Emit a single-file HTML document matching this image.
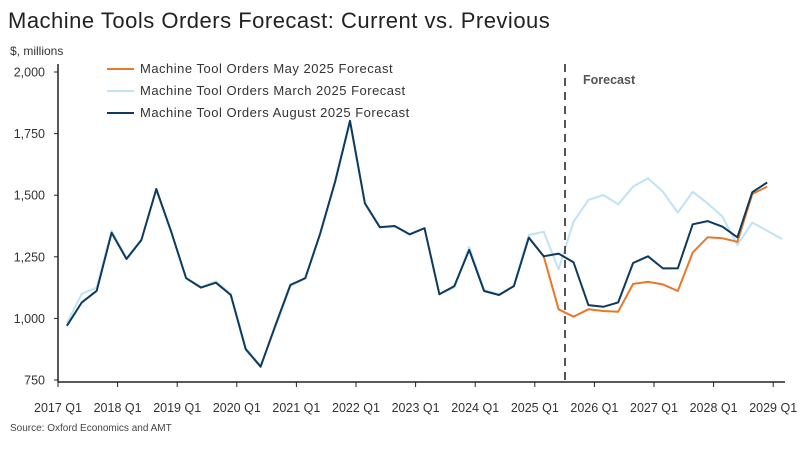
<!DOCTYPE html>
<html><head><meta charset="utf-8"><style>
body{margin:0;background:#fff;font-family:"Liberation Sans",sans-serif}
svg text{font-family:"Liberation Sans",sans-serif}
</style></head><body>
<svg width="800" height="444" viewBox="0 0 800 444">
<text x="8" y="28" font-size="22" letter-spacing="0.5" fill="#222">Machine Tools Orders Forecast: Current vs. Previous</text>
<text x="10" y="55" font-size="12" fill="#333">$, millions</text>
<g id="axes"></g>
<g id="series"></g>
<line x1="565" y1="64" x2="565" y2="382" stroke="#555" stroke-width="2" stroke-dasharray="8,6"/>
<text x="583" y="84" font-size="12.5" font-weight="bold" fill="#555">Forecast</text>
<g>
<line x1="107" y1="69" x2="134" y2="69" stroke="#e8782a" stroke-width="2"/>
<text x="140" y="73" font-size="13" letter-spacing="0.5" fill="#333">Machine Tool Orders May 2025 Forecast</text>
<line x1="107" y1="91" x2="134" y2="91" stroke="#bfe3f4" stroke-width="2"/>
<text x="140" y="95" font-size="13" letter-spacing="0.5" fill="#333">Machine Tool Orders March 2025 Forecast</text>
<line x1="107" y1="113" x2="134" y2="113" stroke="#0d3a5e" stroke-width="2"/>
<text x="140" y="117" font-size="13" letter-spacing="0.5" fill="#333">Machine Tool Orders August 2025 Forecast</text>
</g>
<text x="10" y="431" font-size="10" fill="#444">Source: Oxford Economics and AMT</text>
</svg>
<script>
const yTicks=[750,1000,1250,1500,1750,2000];
const yTickLabels=["750","1,000","1,250","1,500","1,750","2,000"];
const xTickLabels=["2017 Q1","2018 Q1","2019 Q1","2020 Q1","2021 Q1","2022 Q1","2023 Q1","2024 Q1","2025 Q1","2026 Q1","2027 Q1","2028 Q1","2029 Q1"];
const augValues=[970,1065,1112,1348,1241,1318,1525,1352,1163,1125,1145,1095,875,804,973,1136,1163,1345,1555,1802,1467,1370,1375,1341,1366,1098,1131,1278,1111,1095,1131,1328,1252,1263,1228,1054,1047,1065,1225,1252,1203,1203,1382,1395,1372,1329,1512,1552];
const mayStart=31;
const mayValues=[1328,1252,1037,1007,1037,1030,1027,1140,1148,1138,1111,1267,1329,1325,1311,1505,1535];
const marchValues=[980,1100,1125,1355,1245,1320,1520,1350,1165,1128,1150,1100,880,808,965,1130,1165,1340,1550,1795,1465,1372,1373,1343,1366,1100,1125,1290,1115,1097,1133,1338,1352,1199,1392,1481,1501,1463,1535,1569,1514,1429,1514,1467,1413,1298,1389,1356,1322];
const NS='http://www.w3.org/2000/svg';
const x0=58,qw=14.9,yTop=72,yBot=380,vMin=750,vMax=2000;
function yScale(v){return yBot-(v-vMin)/(vMax-vMin)*(yBot-yTop);}
function xScale(i){return x0+(i+0.6)*qw;}
function el(t,a,p){const e=document.createElementNS(NS,t);for(const k in a)e.setAttribute(k,a[k]);p.appendChild(e);return e;}
const ax=document.getElementById('axes');
let e=el('line',{x1:58,y1:64,x2:58,y2:382,stroke:'#222','stroke-width':1.5},ax);


e=el('line',{x1:58,y1:382,x2:785,y2:382,stroke:'#222','stroke-width':1.5},ax);


yTicks.forEach((v,i)=>{
  const y=yScale(v);
  el('line',{x1:54,y1:y,x2:58,y2:y,stroke:'#222'},ax);
  const t=el('text',{x:45,y:y+4.5,'font-size':12.5,'text-anchor':'end',fill:'#333'},ax);
  t.textContent=yTickLabels[i];
  
  
});
xTickLabels.forEach((l,i)=>{
  const x=x0+i*4*qw;
  el('line',{x1:x,y1:382,x2:x,y2:387,stroke:'#222'},ax);
  const t=el('text',{x:x,y:412,'font-size':12.5,'text-anchor':'middle',fill:'#333'},ax);
  t.textContent=l;
  
  
});
const sg=document.getElementById('series');
function line(vals,start,color,name,w){
  const pts=vals.map((v,i)=>xScale(i+start).toFixed(1)+','+yScale(v).toFixed(1)).join(' ');
  const p=el('polyline',{points:pts,fill:'none',stroke:color,'stroke-width':w,'stroke-linejoin':'round'},sg);
  
  
}
line(marchValues,0,'#bfe3f4','series-march-2025',2);
line(mayValues,mayStart,'#e8782a','series-may-2025',2);
line(augValues,0,'#0d3a5e','series-august-2025',2);
</script>
</body></html>
